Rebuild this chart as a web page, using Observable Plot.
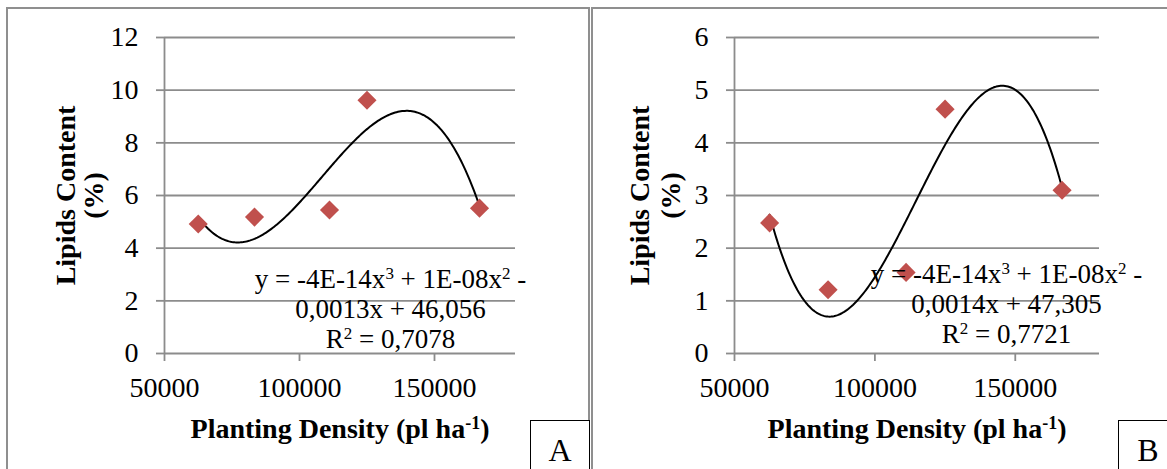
<!DOCTYPE html>
<html>
<head>
<meta charset="utf-8">
<script src="https://cdn.jsdelivr.net/npm/d3@7"></script>
<script src="https://cdn.jsdelivr.net/npm/@observablehq/plot@0.6"></script>
<style>
  html, body { margin: 0; padding: 0; background: #fff; }
  #page { position: relative; width: 1167px; height: 469px; overflow: hidden; background: #fff; }
  .panel { position: absolute; top: 7px; height: 500px; border: 2px solid #8f8f8f; box-sizing: border-box; }
  .chart { position: absolute; top: 0; }
  .chart svg { background: transparent; overflow: visible; }
  .tag { position: absolute; top: 420px; width: 60px; height: 80px; border: 1.5px solid #000; box-sizing: border-box;
         background: #fff; font: 32px "Liberation Serif", serif; color: #000; text-align: center; padding-top: 11px; }
</style>
</head>
<body>
<div id="page">
  <div class="panel" style="left:6px;width:584px"></div>
  <div class="panel" style="left:591px;width:600px"></div>
  <div class="chart" id="chartA" style="left:0px"></div>
  <div class="chart" id="chartB" style="left:592px"></div>
  <div class="tag" style="left:530px">A</div>
  <div class="tag" style="left:1118px">B</div>
</div>
<script>
// Planting density (plants per hectare) and lipid content (%) per treatment
const densities = [62500, 83333, 111111, 125000, 166667];
const lipidsA = [4.92, 5.18, 5.45, 9.62, 5.52];
const lipidsB = [2.48, 1.21, 1.54, 4.64, 3.10];

const xTicks = [50000, 100000, 150000];
const yTicksA = [0, 2, 4, 6, 8, 10, 12];
const yTicksB = [0, 1, 2, 3, 4, 5, 6];

const equationA = ["y = -4E-14x³ + 1E-08x² -", "0,0013x + 46,056", "R² = 0,7078"];
const equationB = ["y = -4E-14x³ + 1E-08x² -", "0,0014x + 47,305", "R² = 0,7721"];

const xTitle = "Planting Density (pl ha⁻¹)";
const yTitle = ["Lipids Content", "(%)"];

const gridColor = "#8c8c8c";
const pointColor = "#C0504D";

// Third-order polynomial trendline: least-squares fit of the points
function cubicFit(xs, ys) {
  const s = 1e5;
  const u = xs.map(x => x / s);
  const n = 4;
  const M = Array.from({length: n}, (_, i) => {
    const row = Array.from({length: n}, (_, j) => d3.sum(u, v => v ** (i + j)));
    row.push(d3.sum(u, (v, k) => ys[k] * v ** i));
    return row;
  });
  for (let c = 0; c < n; c++) {
    let p = c;
    for (let r = c + 1; r < n; r++) if (Math.abs(M[r][c]) > Math.abs(M[p][c])) p = r;
    [M[c], M[p]] = [M[p], M[c]];
    for (let r = 0; r < n; r++) {
      if (r === c) continue;
      const f = M[r][c] / M[c][c];
      for (let k = c; k <= n; k++) M[r][k] -= f * M[c][k];
    }
  }
  const coef = M.map((row, i) => row[n] / row[i]);
  return x => coef.reduce((acc, a, i) => acc + a * (x / s) ** i, 0);
}

function trendline(xs, ys) {
  const f = cubicFit(xs, ys);
  const [x0, x1] = d3.extent(xs);
  return d3.range(0, 201).map(i => {
    const x = x0 + (x1 - x0) * i / 200;
    return {x, y: f(x)};
  });
}

// Render superscript characters (², ³, ⁻¹) as raised, smaller ordinary digits
const superMap = {"²": "2", "³": "3", "⁻": "-", "¹": "1"};
function raiseSuperscripts(svg) {
  const leaves = [];
  d3.select(svg).selectAll("text, tspan").each(function () {
    if (this.children.length === 0 && /[²³⁻¹]/.test(this.textContent)) leaves.push(this);
  });
  for (const el of leaves) {
    const parts = el.textContent.match(/[²³⁻¹]+|[^²³⁻¹]+/g);
    const size = parseFloat(getComputedStyle(el).fontSize) || 28;
    el.textContent = "";
    for (const part of parts) {
      const t = d3.select(el).append("tspan");
      if (/[²³⁻¹]/.test(part)) {
        t.attr("font-size", `${Math.round(size * 0.64)}px`)
         .attr("baseline-shift", `${Math.round(size * 0.32)}px`)
         .text([...part].map(c => superMap[c]).join(""));
      } else {
        t.text(part);
      }
    }
  }
}

function panel({values, yTicks, yMax, width, marginLeft, marginRight, equation, eqDx, eqDy, titleDx}) {
  const points = densities.map((d, i) => ({density: d, lipids: values[i]}));
  const svg = Plot.plot({
    width,
    height: 469,
    marginLeft,
    marginRight,
    marginTop: 37,
    marginBottom: 116,
    style: {fontFamily: "'Liberation Serif', serif", fontSize: "28px", color: "#000", background: "transparent", overflow: "visible"},
    x: {domain: [50000, 180000], label: null},
    y: {domain: [0, yMax], label: null},
    marks: [
      Plot.ruleY(yTicks, {stroke: gridColor, strokeWidth: 1.8}),
      Plot.ruleX([50000], {y1: 0, y2: yMax, stroke: gridColor, strokeWidth: 1.8}),
      Plot.axisY(yTicks, {anchor: "left", tickSize: 8, tickPadding: 18, stroke: gridColor, strokeWidth: 1.8, fill: "#000", label: null, tickFormat: d => `${d}`}),
      Plot.axisX(xTicks, {anchor: "bottom", tickSize: 8, tickPadding: 16, stroke: gridColor, strokeWidth: 1.8, fill: "#000", label: null, tickFormat: d => `${d}`}),
      Plot.line(trendline(densities, values), {x: "x", y: "y", stroke: "#000", strokeWidth: 2}),
      Plot.dot(points, {x: "density", y: "lipids", symbol: "diamond2", r: 8.6, fill: pointColor, stroke: "none"}),
      Plot.text([equation.join("\n")], {frameAnchor: "bottom-right", dx: eqDx, dy: eqDy, textAnchor: "middle", lineAnchor: "bottom", lineHeight: 1.1, fontSize: 27, fill: "#000"}),
      Plot.text([xTitle], {frameAnchor: "bottom", dy: 84, lineAnchor: "bottom", textAnchor: "middle", fontWeight: "bold", fontSize: 28, fill: "#000"}),
      Plot.text([yTitle[0]], {frameAnchor: "left", rotate: -90, dx: titleDx[0], lineAnchor: "bottom", textAnchor: "middle", fontWeight: "bold", fontSize: 28, fill: "#000"}),
      Plot.text([yTitle[1]], {frameAnchor: "left", rotate: -90, dx: titleDx[1], lineAnchor: "bottom", textAnchor: "middle", fontWeight: "bold", fontSize: 28, fill: "#000"})
    ]
  });
  return svg;
}

const svgA = panel({
  values: lipidsA, yTicks: yTicksA, yMax: 12, width: 589, marginLeft: 164, marginRight: 74,
  equation: equationA, eqDx: -125, eqDy: -6, titleDx: [-90, -62]
});
const svgB = panel({
  values: lipidsB, yTicks: yTicksB, yMax: 6, width: 575, marginLeft: 142, marginRight: 68,
  equation: equationB, eqDx: -93, eqDy: -11, titleDx: [-86, -55]
});
document.getElementById("chartA").appendChild(svgA);
document.getElementById("chartB").appendChild(svgB);
raiseSuperscripts(svgA);
raiseSuperscripts(svgB);
</script>
</body>
</html>
